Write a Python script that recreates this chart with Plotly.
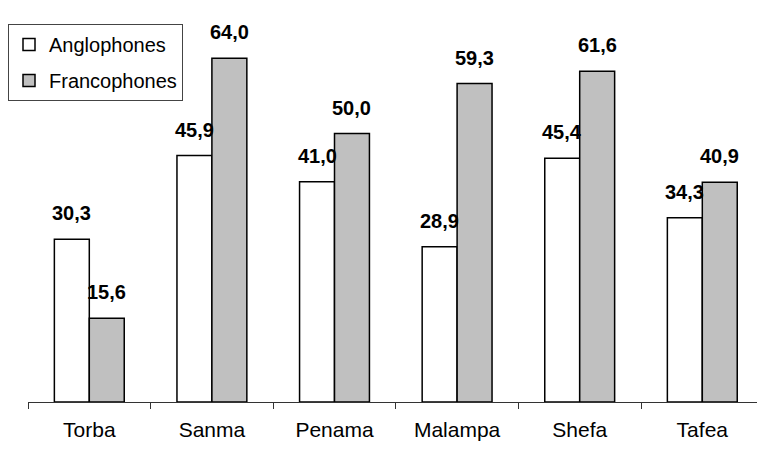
import plotly.graph_objects as go

regions = ["Torba", "Sanma", "Penama", "Malampa", "Shefa", "Tafea"]
anglophones = [30.3, 45.9, 41.0, 28.9, 45.4, 34.3]
francophones = [15.6, 64.0, 50.0, 59.3, 61.6, 40.9]

FONT = "Liberation Sans, Arial, sans-serif"
W, H = 757, 465
ML, MR, MT, MB = 28, 0, 10, 63
cat_px = 122.6
bargap = 0.43
bar_off_px = (1 - bargap) / 4 * cat_px

fig = go.Figure()
fig.add_trace(go.Bar(name="Anglophones", x=regions, y=anglophones,
                     marker=dict(color="white", line=dict(color="black", width=1.5)),
                     legendgroup="a"))
fig.add_trace(go.Bar(name="Francophones", x=regions, y=francophones,
                     marker=dict(color="#C0C0C0", line=dict(color="black", width=1.5)),
                     legendgroup="f"))

def fmt(v):
    return f"{v:.1f}".replace(".", ",")

for i, r in enumerate(regions):
    for vals, sign in ((anglophones, -1), (francophones, 1)):
        fig.add_annotation(x=r, y=vals[i], text=f"<b>{fmt(vals[i])}</b>",
                           showarrow=False, yanchor="bottom", xanchor="center",
                           xshift=sign * bar_off_px, yshift=13,
                           font=dict(family=FONT, size=20, color="black"))

plot_w = W - ML - MR
x_right = -0.5 + plot_w / cat_px
plot_h = H - MT - MB
y_top = plot_h / 5.37

fig.update_layout(
    width=W, height=H,
    margin=dict(l=ML, r=MR, t=MT, b=MB, pad=0, autoexpand=False),
    paper_bgcolor="white", plot_bgcolor="white",
    barmode="group", bargap=bargap, bargroupgap=0,
    font=dict(family=FONT, size=20, color="black"),
    xaxis=dict(type="category", range=[-0.5, x_right], showline=True,
               linecolor="#333333", linewidth=1, ticks="outside",
               tickson="boundaries", ticklen=6, tickcolor="#333333",
               tickfont=dict(family=FONT, size=21, color="black"),
               ticklabelstandoff=9, showgrid=False, zeroline=False,
               automargin=False),
    yaxis=dict(range=[0, y_top], visible=False, showgrid=False, zeroline=False),
    showlegend=True,
    legend=dict(x=(8 - ML) / plot_w, y=(H - MB - 24) / plot_h,
                xanchor="left", yanchor="top", bordercolor="#444444", borderwidth=1,
                bgcolor="white", font=dict(family=FONT, size=20, color="black"),
                traceorder="grouped", tracegroupgap=7, itemwidth=30),
)

fig.write_html("out.html")
